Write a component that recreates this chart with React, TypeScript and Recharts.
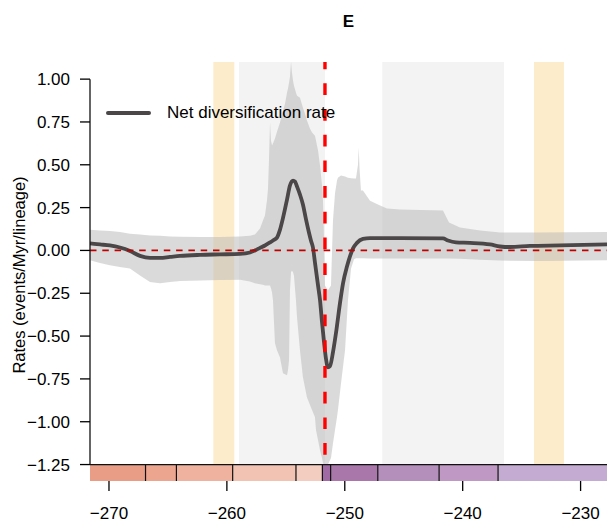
import React from "react";
import {
  ComposedChart,
  Area,
  Line,
  XAxis,
  YAxis,
  ReferenceArea,
  ReferenceLine,
  Label,
} from "recharts";

const FONT = '"Liberation Sans", Arial, Helvetica, sans-serif';

// posterior mean net diversification rate through time (Ma, negative = past)
const meanAge = [
  -271.61, -270.76, -269.92, -269.07, -268.22, -267.37, -266.52, -265.67, -264.83, -263.98,
  -262.28, -260.59, -258.89, -258.04, -257.62, -257.19, -256.77, -256.34, -256.09, -255.75,
  -255.5, -255.24, -254.9, -254.65, -254.39, -254.22, -254.05, -253.8, -253.55, -253.29,
  -253.04, -252.87, -252.7, -252.53, -252.27, -252.1, -251.93, -251.76, -251.59, -251.43,
  -251.26, -251.0, -250.75, -250.41, -250.15, -249.81, -249.56, -249.3, -248.97, -248.46,
  -247.86, -245.32, -241.67, -241.25, -240.57, -239.38, -237.68, -236.84, -235.99, -234.29,
  -231.75, -227.76,
];
const meanRate = [
  0.041, 0.035, 0.029, 0.017, -0.003, -0.032, -0.044, -0.044, -0.038, -0.032,
  -0.026, -0.023, -0.02, -0.012, 0.0, 0.015, 0.029, 0.047, 0.058, 0.075,
  0.12, 0.19, 0.297, 0.379, 0.408, 0.402, 0.373, 0.326, 0.268, 0.181,
  0.105, 0.058, 0.017, -0.07, -0.204, -0.291, -0.42, -0.536, -0.635, -0.682,
  -0.676, -0.594, -0.484, -0.309, -0.192, -0.093, -0.035, 0.012, 0.044, 0.067,
  0.072, 0.072, 0.07, 0.058, 0.047, 0.044, 0.035, 0.023, 0.02, 0.026,
  0.029, 0.035,
];

// 95% credible interval of the rate
const ciAge = [
  -271.61, -270.76, -269.92, -269.07, -268.22, -267.37, -266.52, -265.67, -264.83, -263.98,
  -262.28, -260.59, -258.89, -258.04, -257.62, -257.19, -256.94, -256.77, -256.6, -256.51,
  -256.43, -256.34, -256.26, -256.17, -256.09, -255.92, -255.75, -255.5, -255.24, -255.07,
  -254.9, -254.82, -254.73, -254.65, -254.56, -254.48, -254.39, -254.31, -254.14, -254.05,
  -253.8, -253.55, -253.38, -253.21, -252.95, -252.78, -252.53, -252.44, -252.27, -252.1,
  -251.93, -251.85, -251.76, -251.68, -251.43, -251.17, -251.0, -250.83, -250.66, -250.58,
  -250.32, -249.98, -249.73, -249.47, -249.22, -249.05, -248.88, -248.82, -248.75, -248.63,
  -248.46, -247.86, -247.01, -246.42, -245.32, -243.62, -241.67, -241.42, -241.16, -240.23,
  -238.53, -236.84, -233.44, -227.76,
];
const ciLow = [
  -0.058, -0.073, -0.087, -0.096, -0.105, -0.146, -0.185, -0.191, -0.184, -0.179,
  -0.175, -0.173, -0.171, -0.181, -0.192, -0.198, -0.201, -0.204, -0.204, -0.204,
  -0.204, -0.204, -0.221, -0.245, -0.291, -0.542, -0.583, -0.624, -0.717, -0.723,
  -0.728, -0.699, -0.641, -0.233, -0.128, -0.117, -0.128, -0.146, -0.291, -0.39,
  -0.583, -0.74, -0.798, -0.857, -0.903, -0.932, -0.973, -1.049, -1.107, -1.166,
  -1.212, -1.241, -1.25, -1.25, -1.25, -1.212, -1.125, -1.049, -0.973, -0.932,
  -0.775, -0.583, -0.291, -0.105, -0.052, -0.045, -0.045, -0.045, -0.045, -0.045,
  -0.045, -0.047, -0.047, -0.047, -0.047, -0.047, -0.047, -0.047, -0.047, -0.048,
  -0.055, -0.059, -0.062, -0.058,
];
const ciHigh = [
  0.121, 0.117, 0.114, 0.107, 0.097, 0.093, 0.087, 0.085, 0.082, 0.08,
  0.078, 0.079, 0.082, 0.085, 0.093, 0.128, 0.175, 0.204, 0.291, 0.361,
  0.524, 0.746, 0.641, 0.612, 0.624, 0.653, 0.693, 0.746, 0.816, 0.857,
  0.921, 0.944, 0.979, 1.014, 1.1, 1.037, 0.991, 0.962, 0.921, 0.903,
  0.892, 0.833, 0.798, 0.758, 0.711, 0.688, 0.67, 0.641, 0.583, 0.495,
  0.379, 0.291, 0.058, -0.204, -0.233, -0.204, 0.175, 0.332, 0.408, 0.425,
  0.437, 0.431, 0.425, 0.422, 0.42, 0.42, 0.5, 0.6, 0.48, 0.35,
  0.35, 0.29, 0.262, 0.245, 0.239, 0.236, 0.233, 0.198, 0.163, 0.134,
  0.117, 0.105, 0.105, 0.107,
];

// stage boundaries (Roadian .. Carnian) and their timescale colours
const stageEdges = [-273.01, -266.9, -264.28, -259.51, -254.14, -251.9, -251.2, -247.2, -242.0, -237.0, -227.0];
const stageColors = [
  "#e99c86", "#eca690", "#efb29f", "#f2c3b3", "#f3cdc0",
  "#a06aa5", "#aa77ab", "#b58fbc", "#bf99c3", "#c4abd1",
];

const warmBands = [
  [-261.15, -259.37],
  [-233.95, -231.41],
];
const greyBands = [
  [-258.97, -251.68],
  [-246.82, -236.5],
];
const boundaryAge = -251.68;

const xTicks = [-270, -260, -250, -240, -230];
const yTicks = [-1.25, -1.0, -0.75, -0.5, -0.25, 0, 0.25, 0.5, 0.75, 1.0];

const xDomain: [number, number] = [-271.61, -227.76];
const yDomain: [number, number] = [-1.346, 1.1];

const meanRows = meanAge.map((age, i) => ({ age, rate: meanRate[i] }));
const ciRows = ciAge.map((age, i) => ({ age, range: [ciLow[i], ciHigh[i]] }));

const minus = (v: number, digits: number) =>
  (v < 0 ? "\u2212" : "") + Math.abs(v).toFixed(digits);

const tickStyle = { fill: "#000", fontSize: 17, fontFamily: FONT };

export default function App() {
  return (
    <div style={{ position: "absolute", left: 0, top: 0, width: 610, height: 523, background: "#fff" }}>
      <ComposedChart width={610} height={523} margin={{ top: 62, right: 3, bottom: 0, left: 30 }}>
        <XAxis
          type="number"
          dataKey="age"
          domain={xDomain}
          ticks={xTicks}
          allowDataOverflow
          interval={0}
          axisLine={false}
          tickSize={10}
          tickMargin={16}
          height={42}
          tick={tickStyle}
          tickLine={{ stroke: "#000", strokeWidth: 1.3 }}
          tickFormatter={(v: number) => minus(v, 0)}
        />
        <YAxis
          type="number"
          domain={yDomain}
          ticks={yTicks}
          allowDataOverflow
          interval={0}
          axisLine={false}
          width={60}
          tickSize={10}
          tickMargin={10}
          tick={tickStyle}
          tickLine={{ stroke: "#000", strokeWidth: 1.3 }}
          tickFormatter={(v: number) => minus(v, 2)}
        >
          <Label
            content={() => (
              <text
                transform="translate(25 275) rotate(-90)"
                textAnchor="middle"
                fontSize={16.5}
                fontFamily={FONT}
                fill="#000"
              >
                Rates (events/Myr/lineage)
              </text>
            )}
          />
        </YAxis>

        {greyBands.map(([a, b], i) => (
          <ReferenceArea key={`g${i}`} x1={a} x2={b} y1={-1.25} y2={1.1} fill="#e8e8e8" fillOpacity={0.5} stroke="none" ifOverflow="hidden" />
        ))}
        {warmBands.map(([a, b], i) => (
          <ReferenceArea key={`w${i}`} x1={a} x2={b} y1={-1.25} y2={1.1} fill="#fbd997" fillOpacity={0.5} stroke="none" ifOverflow="hidden" />
        ))}

        <Area
          data={ciRows}
          dataKey="range"
          type="linear"
          stroke="none"
          fill="#b8b5b6"
          fillOpacity={0.5}
          dot={false}
          activeDot={false}
          isAnimationActive={false}
        />
        <Line
          data={meanRows}
          dataKey="rate"
          type="monotone"
          stroke="#4b4647"
          strokeWidth={3.8}
          dot={false}
          activeDot={false}
          isAnimationActive={false}
        />

        <ReferenceLine y={0} stroke="#c00000" strokeWidth={1.7} strokeDasharray="6.5 5.8" />
        <ReferenceLine
          segment={[
            { x: boundaryAge, y: 1.1 },
            { x: boundaryAge, y: -1.25 },
          ]}
          stroke="#ff0000"
          strokeWidth={3.4}
          strokeDasharray="11.7 14"
          strokeDashoffset={4.4}
        />

        {/* geological timescale strip under the plot */}
        {stageColors.map((c, i) => (
          <ReferenceArea
            key={`s${i}`}
            x1={stageEdges[i]}
            x2={stageEdges[i + 1]}
            y1={yDomain[0]}
            y2={-1.25}
            fill={c}
            fillOpacity={1}
            stroke="none"
            ifOverflow="hidden"
          />
        ))}
        {stageEdges.slice(1, -1).map((e) => (
          <ReferenceLine
            key={`e${e}`}
            segment={[
              { x: e, y: yDomain[0] },
              { x: e, y: -1.25 },
            ]}
            stroke="#111"
            strokeWidth={1.2}
          />
        ))}
        <ReferenceLine y={-1.25} stroke="#111" strokeWidth={1.3} ifOverflow="visible" />
        <ReferenceLine
          segment={[
            { x: xDomain[0], y: -1.25 },
            { x: xDomain[0], y: 1.0 },
          ]}
          stroke="#111"
          strokeWidth={1.3}
          ifOverflow="visible"
        />
      </ComposedChart>

      <div
        style={{
          position: "absolute",
          left: 0,
          width: 697,
          top: 12,
          textAlign: "center",
          fontFamily: FONT,
          fontWeight: "bold",
          fontSize: 17,
          lineHeight: "20px",
          color: "#000",
        }}
      >
        E
      </div>

      <div
        style={{
          position: "absolute",
          left: 105,
          top: 102,
          display: "flex",
          alignItems: "center",
          fontFamily: FONT,
          fontSize: 17,
          color: "#000",
        }}
      >
        <svg width={48} height={22}>
          <line x1={3} y1={11} x2={44} y2={11} stroke="#4b4647" strokeWidth={4} strokeLinecap="round" />
        </svg>
        <span style={{ marginLeft: 14, lineHeight: "22px" }}>Net diversification rate</span>
      </div>
    </div>
  );
}
